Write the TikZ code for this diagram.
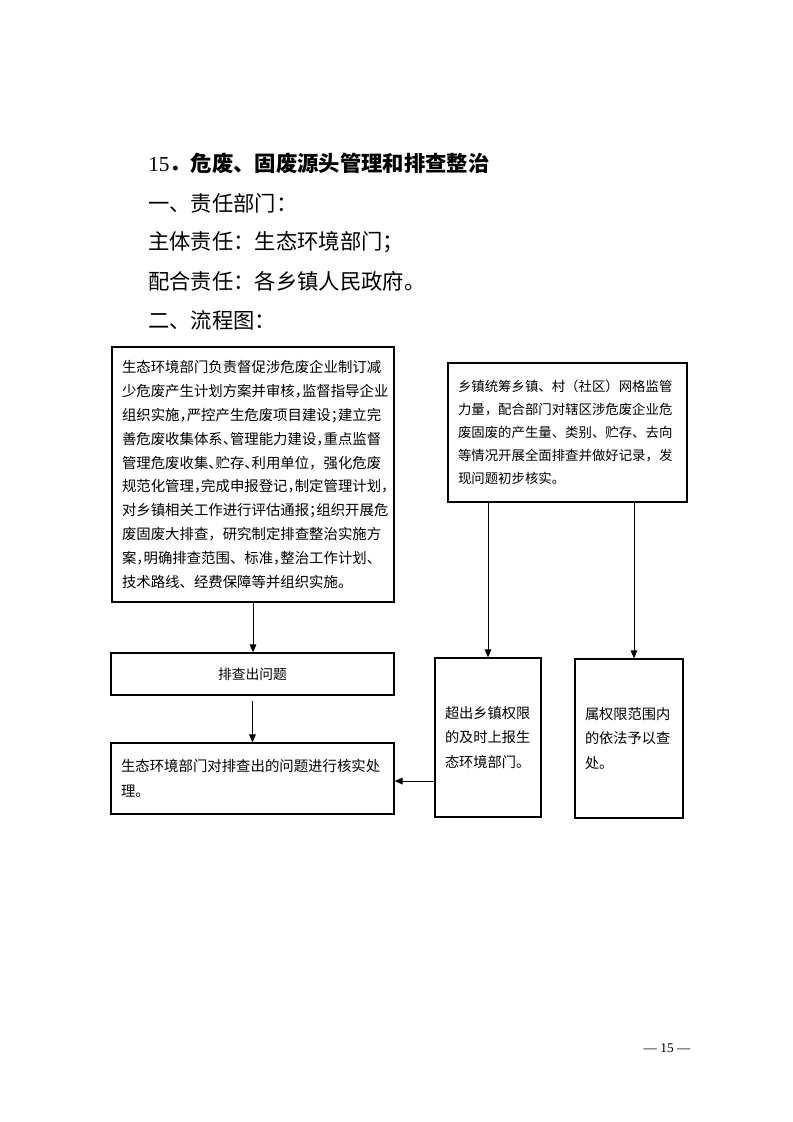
\documentclass[tikz,border=0pt]{standalone}
\usepackage{fontspec}
\setmainfont{Liberation Serif}
\newfontfamily\cjk{Noto Sans CJK SC}
\usetikzlibrary{arrows.meta,calc}
\newcommand{\hc}{\makebox[.5em][l]{，}}
\newcommand{\hs}{\makebox[.5em][l]{；}}
\newcommand{\hd}{\makebox[.5em][l]{、}}
\newcommand{\fc}{\makebox[1em][l]{，}}
\newcommand{\fs}{\makebox[1em][l]{；}}
\newcommand{\fd}{\makebox[1em][l]{、}}
\newcommand{\fp}{\makebox[1em][l]{。}}
\begin{document}
\begin{tikzpicture}[x=0.75pt,y=-0.75pt,
  box/.style={draw, line width=0.9pt, inner sep=0pt, align=left},
  head/.style={anchor=west, inner sep=0pt, font=\cjk\fontsize{16pt}{20pt}\selectfont},
  arr/.style={line width=0.75pt, -{Triangle[length=6pt,width=5pt]}}]
\useasboundingbox[fill=white] (0,0) rectangle (793,1122);

% header
\node[anchor=west, inner sep=0pt, font=\fontsize{16pt}{20pt}\selectfont] (title) at (148,163)
  {15{\cjk\bfseries ．危废、固废源头管理和排查整治}};
\node[head] (h1) at (148,203) {一、责任部门：};
\node[head] (h2) at (148,242) {主体责任：生态环境部门；};
\node[head] (h3) at (148,281) {配合责任：各乡镇人民政府。};
\node[head] (h4) at (148,320) {二、流程图：};

% boxes
\node[box, minimum width=211.5pt, minimum height=191.25pt, text width=196.5pt,
  font=\cjk\fontsize{10.8pt}{17.9pt}\selectfont] (A) at (253,474.5)
  {生态环境部门负责督促涉危废企业制订减\\
   少危废产生计划方案并审核\hc 监督指导企业\\
   组织实施\hc 严控产生危废项目建设\hs 建立完\\
   善危废收集体系\hd 管理能力建设\hc 重点监督\\
   管理危废收集\hd 贮存\hd 利用单位\fc 强化危废\\
   规范化管理\hc 完成申报登记\hc 制定管理计划\hc\\
   对乡镇相关工作进行评估通报\hs 组织开展危\\
   废固废大排查\fc 研究制定排查整治实施方\\
   案\hc 明确排查范围\fd 标准\hc 整治工作计划\fd\\
   技术路线\fd 经费保障等并组织实施\fp};

\node[box, minimum width=212.25pt, minimum height=31.5pt, align=center,
  font=\cjk\fontsize{10.3pt}{14pt}\selectfont] (B) at (252.5,674) {排查出问题};

\node[box, minimum width=212.25pt, minimum height=53.25pt, text width=197.25pt,
  font=\cjk\fontsize{10.8pt}{18.75pt}\selectfont] (C) at (252.5,778.5)
  {生态环境部门对排查出的问题进行核实处\\理\fp};

\node[box, minimum width=179.25pt, minimum height=104.25pt, text width=164.25pt,
  font=\cjk\fontsize{10.05pt}{17.2pt}\selectfont] (D) at (567.5,432.5)
  {乡镇统筹乡镇\fd 村（社区）网格监管\\
   力量\fc 配合部门对辖区涉危废企业危\\
   废固废的产生量\fd 类别\fd 贮存\fd 去向\\
   等情况开展全面排查并做好记录\fc 发\\
   现问题初步核实\fp};

\node[box, minimum width=79.5pt, minimum height=119.25pt, text width=64.5pt,
  font=\cjk\fontsize{10.65pt}{18.4pt}\selectfont] (E) at (488,737.5)
  {超出乡镇权限\\的及时上报生\\态环境部门\fp};

\node[box, minimum width=81pt, minimum height=119.25pt, text width=66pt,
  font=\cjk\fontsize{10.65pt}{18.4pt}\selectfont] (F) at (629,738.5)
  {属权限范围内\\的依法予以查\\处\fp};

% connectors
\draw[arr] (A.south) -- (A.south |- B.north);
\draw[arr, shorten <=3.75pt] (B.south) -- (C.north);
\draw[arr] (D.south -| E.north) -- (E.north);
\draw[arr] ([xshift=3.75pt]F.north |- D.south) -- ([xshift=3.75pt]F.north);
\draw[arr] ([yshift=-1.9pt]C.east -| E.west) -- ([yshift=-1.9pt]C.east);

% page number
\node[font=\fontsize{10pt}{12pt}\selectfont] (pg) at (667,1048) {— 15 —};
\end{tikzpicture}
\end{document}
